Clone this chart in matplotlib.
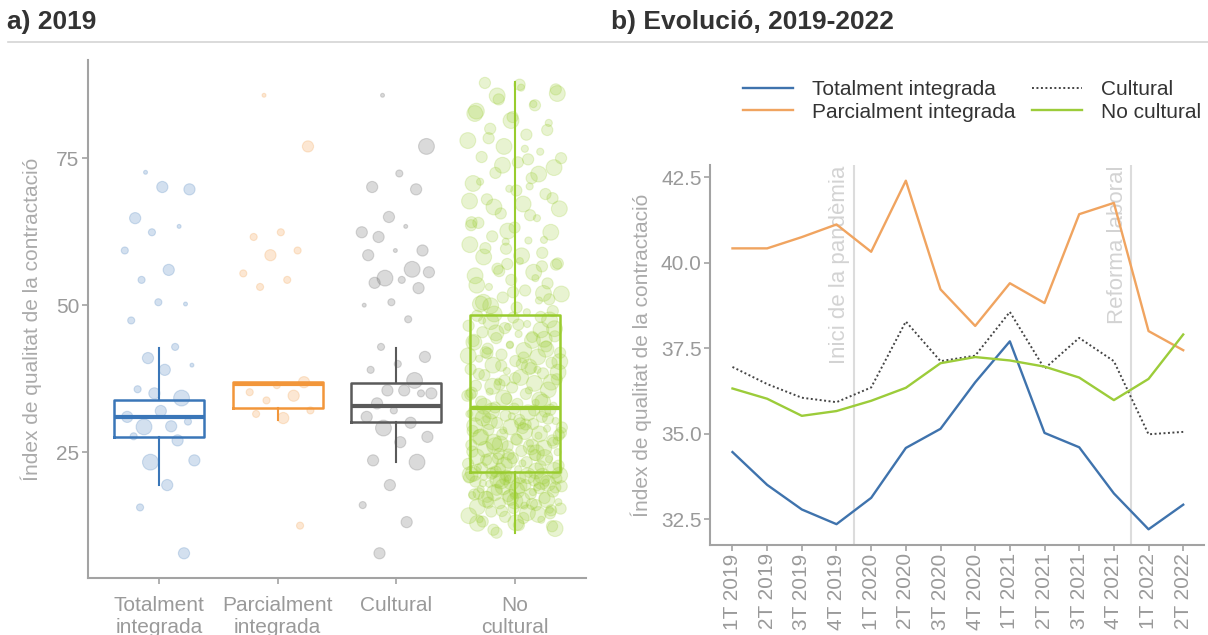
import numpy as np
import matplotlib.pyplot as plt
from matplotlib.lines import Line2D

plt.rcParams['font.family'] = ['Liberation Sans', 'DejaVu Sans']

# --- Dades panell a) 2019 ---
grups = ["Totalment\nintegrada", "Parcialment\nintegrada", "Cultural", "No\ncultural"]
colors_grup = ["#3a76b8", "#f2963a", "#5a5a5a", "#99cc2e"]

# estadístics de les caixes (llegits del gràfic)
q1 = [27.5, 32.5, 30.1, 21.6]
mediana = [31.0, 36.6, 32.8, 32.5]
q3 = [33.8, 36.9, 36.7, 48.3]
bigoti_inf = [19.4, 30.5, 23.3, 11.2]
bigoti_sup = [42.8, 36.9, 42.8, 88.0]

# punts individuals: valor de l'índex i pes (1 = petit ... 4 = gran)
valors_ti = [72.6, 69.7, 70.1, 64.8, 63.4, 62.4, 59.3, 56.0, 54.3, 50.2, 50.5, 47.4,
             42.9, 41.0, 39.8, 39.0, 35.7, 34.2, 35.0, 31.0, 29.4, 29.3, 30.2, 32.0,
             27.7, 27.0, 23.3, 23.6, 19.4, 15.6, 7.8]
pes_ti = [1, 3, 3, 3, 1, 2, 2, 3, 2, 1, 2, 2, 2, 3, 1, 3, 2, 4, 3, 3, 3, 4, 2, 3,
          2, 3, 4, 3, 3, 2, 3]

valors_pi = [85.7, 77.0, 62.4, 61.6, 59.3, 58.5, 55.4, 54.3, 53.1, 36.9, 36.4, 35.2,
             34.6, 33.8, 32.1, 30.8, 31.5, 12.5]
pes_pi = [1, 3, 2, 2, 2, 3, 2, 2, 2, 3, 2, 2, 3, 2, 2, 3, 2, 2]

valors_cu = [85.7, 77.0, 72.4, 70.1, 69.7, 65.0, 62.4, 63.4, 61.6, 59.3, 59.3, 58.5,
             56.1, 54.6, 55.6, 54.3, 53.8, 52.9, 50.5, 50.0, 47.6, 42.9, 41.2, 40.0,
             39.0, 37.2, 35.5, 35.0, 35.5, 33.3, 35.0, 32.1, 31.0, 30.0, 29.1, 27.6,
             26.7, 23.6, 23.3, 19.4, 16.0, 13.1, 7.8]
pes_cu = [1, 4, 2, 3, 3, 3, 3, 1, 3, 3, 1, 3, 4, 4, 3, 2, 3, 3, 2, 1, 2, 2, 3, 2,
          2, 4, 3, 3, 3, 3, 2, 2, 3, 3, 4, 3, 3, 3, 4, 3, 2, 3, 3]

valors_nc = [11.3, 12.0, 12.6, 13.2, 13.5, 14.0, 14.2, 14.7, 14.9, 15.2, 15.5, 15.7,
             16.0, 16.3, 16.5, 16.8, 17.0, 17.2, 17.5, 17.7, 17.9, 18.1, 18.3, 18.5,
             18.7, 18.9, 19.1, 19.2, 19.4, 19.6, 19.7, 19.9, 20.0, 20.2, 20.3, 20.5,
             20.6, 20.8, 20.9, 21.0, 21.2, 21.3, 21.5, 15.1, 16.7, 18.0, 19.0, 20.1,
             21.1, 13.8, 17.4, 19.8, 20.7, 21.4, 16.2,
             21.7, 21.9, 22.1, 22.3, 22.6, 22.8, 23.0, 23.3, 23.5, 23.8, 24.0, 24.2,
             24.5, 24.7, 25.0, 25.2, 25.5, 25.7, 26.0, 26.2, 26.5, 26.7, 27.0, 27.2,
             27.5, 27.8, 28.0, 28.3, 28.5, 28.8, 29.0, 29.3, 29.5, 29.8, 30.0, 30.3,
             30.5, 30.8, 31.0, 31.2, 31.5, 31.7, 32.0, 32.2, 32.4, 22.4, 24.9, 26.4,
             27.9, 29.1, 30.6, 31.9, 23.6, 28.6, 25.9,
             32.6, 32.9, 33.2, 33.6, 33.9, 34.2, 34.6, 34.9, 35.3, 35.6, 36.0, 36.3,
             36.7, 37.0, 37.4, 37.7, 38.1, 38.4, 38.8, 39.1, 39.5, 39.8, 40.2, 40.5,
             40.9, 41.2, 41.6, 41.9, 42.3, 42.6, 43.0, 43.3, 43.7, 44.0, 44.4, 44.7,
             45.1, 45.4, 45.8, 46.1, 46.5, 46.8, 47.2, 47.5, 47.9, 48.2, 33.4, 36.5,
             38.6, 40.0, 42.0, 44.2, 46.3, 35.1, 39.3,
             48.5, 49.0, 49.6, 50.2, 50.8, 51.3, 51.9, 52.5, 53.1, 53.7, 54.3, 55.0,
             55.6, 56.2, 56.9, 57.5, 58.2, 58.9, 59.6, 60.3, 61.0, 61.7, 62.4, 63.2,
             64.0, 64.8, 65.6, 66.4, 67.2, 68.0, 68.9, 69.8, 70.7, 71.6, 72.5, 73.4,
             74.3, 75.2, 76.1, 77.0, 78.0, 79.0, 80.0, 81.0, 82.0, 83.0, 84.0, 85.0,
             86.0, 87.0, 87.8, 52.0, 57.0, 63.6, 70.2,
             11.8, 12.4, 13.0, 13.6, 14.4, 15.0, 15.4, 15.9, 16.4, 16.9, 17.3, 17.8,
             18.2, 18.6, 19.0, 19.3, 19.7, 20.0, 20.4, 20.7, 21.0, 21.3, 14.6, 17.6,
             12.9,
             21.8, 22.2, 22.7, 23.1, 23.7, 24.1, 24.6, 25.1, 25.6, 26.1, 26.6, 27.1,
             27.6, 28.1, 28.7, 29.2, 29.7, 30.2, 30.7, 31.1, 31.6, 32.1, 23.9, 26.9,
             29.9,
             32.8, 33.5, 34.1, 34.8, 35.5, 36.2, 36.9, 37.6, 38.3, 39.0, 39.7, 40.4,
             41.1, 41.8, 42.5, 43.2, 43.9, 44.6, 45.3, 46.0, 46.7, 47.4, 48.0, 37.2,
             41.4,
             48.8, 49.9, 51.0, 52.2, 53.4, 54.6, 55.8, 57.1, 58.4, 59.7, 61.1, 62.6,
             64.1, 65.3, 66.7, 68.2, 69.5, 71.0, 72.3, 73.8, 75.0, 76.6, 78.4, 79.8,
             81.4, 82.6, 84.2, 85.6, 86.7, 87.5, 50.5, 56.6, 60.8, 67.7, 74.8]
pes_nc = [int(c) for c in
          "3433234432343324433234342343324433"
          "4332434233432443323433423343342343"
          "3234433243342334324433234332443324"
          "4332343432334433243342343323443324"
          "3343324433234332443323433423343342"
          "3432334433243342343323443324334332"
          "4433234334234332"
          "3342433234432334243343324433"
          "2343324334423343243323443324"
          "4332343342334432334243342334"
          "32433433244323344243343243"]

# --- Dades panell b) Evolució ---
trimestres = ["1T 2019", "2T 2019", "3T 2019", "4T 2019", "1T 2020", "2T 2020", "3T 2020",
              "4T 2020", "1T 2021", "2T 2021", "3T 2021", "4T 2021", "1T 2022", "2T 2022"]
totalment = [34.46, 33.5, 32.78, 32.35, 33.12, 34.58, 35.14, 36.5, 37.7, 35.02, 34.6,
             33.25, 32.2, 32.92]
parcialment = [40.42, 40.42, 40.75, 41.12, 40.32, 42.4, 39.22, 38.15, 39.4, 38.82, 41.42,
               41.75, 38.0, 37.44]
cultural = [36.95, 36.45, 36.05, 35.92, 36.35, 38.28, 37.12, 37.28, 38.56, 36.9, 37.8,
            37.12, 34.98, 35.05]
no_cultural = [36.32, 36.02, 35.52, 35.66, 35.96, 36.34, 37.06, 37.24, 37.14, 36.96,
               36.64, 35.98, 36.6, 37.9]
esdeveniments = [3.5, 11.5]
noms_esdeveniments = ["Inici de la pandèmia", "Reforma laboral"]

GRIS_EIX = "#a3a3a3"
GRIS_TEXT = "#9a9a9a"

fig = plt.figure(figsize=(12.08, 6.35), dpi=100)
ax1 = fig.add_axes([0.0728, 0.0898, 0.412, 0.8157])
ax2 = fig.add_axes([0.5877, 0.1417, 0.409, 0.5985])

# títols i línia de separació
fig.text(0.006, 1 - 22 / 635, "a) 2019", fontsize=19, fontweight="bold", color="#333333",
         va="center")
fig.text(0.506, 1 - 22 / 635, "b) Evolució, 2019-2022", fontsize=19, fontweight="bold",
         color="#333333", va="center")
fig.add_artist(Line2D([0.007, 1.0], [1 - 42 / 635] * 2, color="#d4d4d4", lw=1.2))

# --- Panell a ---
mides = {1: 8, 2: 26, 3: 65, 4: 130}
grups_punts = [(valors_ti, pes_ti), (valors_pi, pes_pi), (valors_cu, pes_cu),
               (valors_nc, pes_nc)]
for i, (vals, pesos) in enumerate(grups_punts):
    n = len(vals)
    amplada = 0.4 if i == 3 else 0.3
    jit = ((np.arange(n) * 0.6180339887 + 0.31) % 1.0 - 0.5) * 2 * amplada
    ax1.scatter(i + jit, vals, s=[mides[p] for p in pesos],
                facecolor=colors_grup[i], edgecolor=colors_grup[i],
                alpha=0.22, linewidths=0.8, zorder=3)
    caixa = dict(q1=q1[i], med=mediana[i], q3=q3[i], whislo=bigoti_inf[i],
                 whishi=bigoti_sup[i], fliers=[])
    b = ax1.bxp([caixa], positions=[i], widths=0.76, showcaps=False,
                showfliers=False, patch_artist=False,
                boxprops=dict(color=colors_grup[i], lw=1.8),
                whiskerprops=dict(color=colors_grup[i], lw=1.5),
                medianprops=dict(color=colors_grup[i], lw=3),
                manage_ticks=False)
    for art in b["boxes"] + b["whiskers"] + b["medians"]:
        art.set_zorder(2)

ax1.set_xlim(-0.6, 3.6)
ax1.set_ylim(3.6, 91.7)
ax1.set_xticks(range(4))
ax1.set_xticklabels(grups)
ax1.set_yticks([25, 50, 75])
ax1.set_ylabel("Índex de qualitat de la contractació", fontsize=15, color="#ababab",
               labelpad=10)

# --- Panell b ---
x = np.arange(len(trimestres))
for xe, nom in zip(esdeveniments, noms_esdeveniments):
    ax2.axvline(xe, color="#dcdcdc", lw=1.5, zorder=1)
    ax2.text(xe - 0.1, 42.85, nom, rotation=90, ha="right", va="top", fontsize=16,
             color="#d3d3d3", zorder=1)
l1, = ax2.plot(x, totalment, color="#3f73ad", lw=1.7, label="Totalment integrada")
l2, = ax2.plot(x, parcialment, color="#f0a460", lw=1.7, label="Parcialment integrada")
l3, = ax2.plot(x, cultural, color="#444444", lw=1.4, ls=(0, (1, 1.3)), label="Cultural")
l4, = ax2.plot(x, no_cultural, color="#9ccc3a", lw=1.7, label="No cultural")
ax2.set_xlim(-0.65, 13.6)
ax2.set_ylim(31.74, 42.86)
ax2.set_xticks(x)
ax2.set_xticklabels(trimestres, rotation=90)
ax2.set_yticks([32.5, 35.0, 37.5, 40.0, 42.5])
ax2.set_yticklabels(["32.5", "35.0", "37.5", "40.0", "42.5"])
ax2.set_ylabel("Índex de qualitat de la contractació", fontsize=15, color="#ababab",
               labelpad=6)

fig.legend([l1, l2, l3, l4], [l.get_label() for l in (l1, l2, l3, l4)], ncol=2,
           loc="upper left", bbox_to_anchor=(733 / 1208, 1 - 70 / 635), frameon=False,
           fontsize=15, handlelength=2.4, handletextpad=0.9, columnspacing=0.8,
           labelspacing=0.15, borderpad=0, labelcolor="#333333")

for ax in (ax1, ax2):
    for s in ("top", "right"):
        ax.spines[s].set_visible(False)
    for s in ("left", "bottom"):
        ax.spines[s].set_color(GRIS_EIX)
        ax.spines[s].set_linewidth(1.5)
    ax.tick_params(colors=GRIS_EIX, labelcolor=GRIS_TEXT, labelsize=15, length=4,
                   width=1.2, pad=2)
ax1.tick_params(axis="x", pad=9)

fig.savefig("out.png", dpi=100)
